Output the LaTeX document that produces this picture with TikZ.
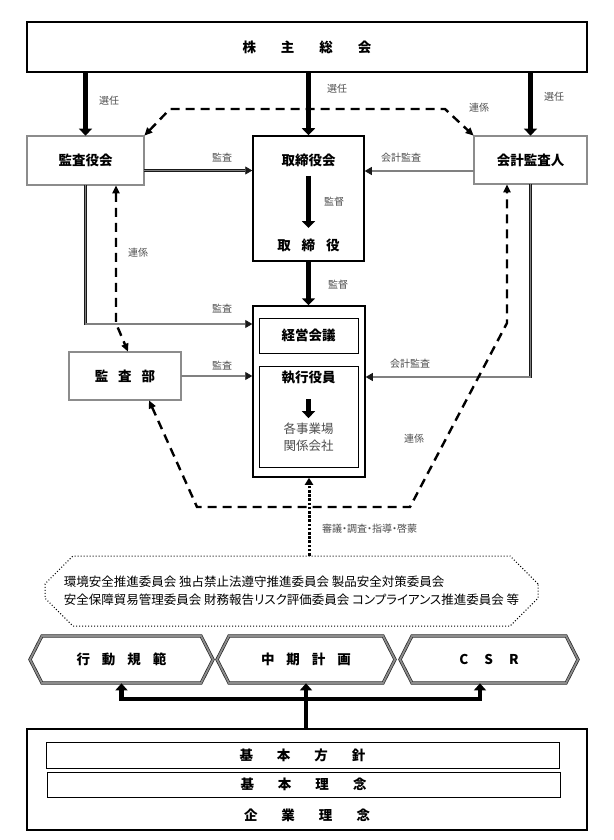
\documentclass[tikz,border=0pt]{standalone}
\usepackage{fontspec}
\setmainfont{Noto Sans CJK JP}
\newfontfamily\kana[RawFeature=+palt]{Noto Sans CJK JP}
\usetikzlibrary{arrows.meta, shapes.misc, shapes.symbols}
\newcommand\gp[1]{\hspace{#1pt}}

\begin{document}
\begin{tikzpicture}[x=1pt, y=-1pt,
  ttl/.style={font=\fontsize{13.5}{16}\selectfont\bfseries},
  lbl/.style={font=\fontsize{10}{12}\selectfont, text=black!70, inner sep=1pt},
  dbox/.style={draw=black!85, double=black!45, double distance=1.3pt, line width=0.7pt},
  senin/.style={line width=5.5pt, -{Triangle[width=13pt,length=7pt]}},
  kansa/.style={draw=black!90, double=black!50, double distance=1.1pt, line width=0.8pt, -{Triangle[width=8pt,length=7pt]}},
  renkei/.style={line width=2.4pt, dash pattern=on 9pt off 6pt, {Triangle[width=7pt,length=8pt]}-{Triangle[width=7pt,length=8pt]}},
  hexa/.style={signal, signal to=west and east, signal pointer angle=126, minimum height=47pt, draw=black!85, double=black!45, double distance=1.8pt, line width=0.7pt, inner sep=0pt},
  kiso/.style={line width=4.5pt, -{Triangle[width=12pt,length=7pt]}}]
\useasboundingbox (0,0) rectangle (613,840);
\node[draw, line width=1.2pt, minimum width=560pt, minimum height=50pt, ttl] (soukai) at (307,47) {株\gp{25}主\gp{25}総\gp{25}会};
\node[dbox, minimum width=117pt, minimum height=49pt, ttl] (kansayaku) at (85.5,160.5) {監査役会};
\node[draw, line width=1.5pt, minimum width=111pt, minimum height=125pt] (torishimari) at (308.5,198.5) {};
\node[ttl] (tkai) at (308.5,160) {取締役会};
\node[ttl] (tyaku) at (308.5,245) {取\gp{11}締\gp{11}役};
\node[dbox, minimum width=113pt, minimum height=48pt, ttl] (kaikei) at (530.5,160) {会計監査人};
\node[draw, line width=1.5pt, minimum width=112pt, minimum height=171pt] (keiei) at (309,391.5) {};
\node[draw, line width=1pt, minimum width=99pt, minimum height=35pt, ttl] (kaigi) at (308.5,335.5) {経営会議};
\node[draw, line width=1pt, minimum width=99pt, minimum height=101pt] (shikko) at (308.5,416.5) {};
\node[ttl] (yakuin) at (308.5,378) {執行役員};
\node[align=center, font=\fontsize{12.5}{17}\selectfont, text=black!70] (jigyo) at (308.5,437) {各事業場\\関係会社};
\node[dbox, minimum width=112pt, minimum height=48pt, ttl] (kansabu) at (125,376) {監\gp{10}査\gp{10}部};
\node[chamfered rectangle, chamfered rectangle xsep=17pt, chamfered rectangle ysep=13pt, draw, line width=1pt, dotted, minimum width=493pt, minimum height=70pt, align=left, font=\fontsize{12.5}{18}\selectfont, inner sep=0pt] (iinkai) at (291.5,591) {環境安全推進委員会 独占禁止法遵守推進委員会 製品安全対策委員会\\安全保障貿易管理委員会 財務報告{\kana リスク}評価委員会 {\kana コンプライアンス}推進委員会 等};
\node[hexa, minimum width=183pt, ttl] (kodo) at (121.5,659.5) {行\gp{12}動\gp{12}規\gp{12}範};
\node[hexa, minimum width=178pt, ttl] (chuki) at (306,659.5) {中\gp{12}期\gp{12}計\gp{12}画};
\node[hexa, minimum width=178pt, ttl] (csr) at (489,659.5) {C\gp{16}S\gp{16}R};
\node[draw, line width=2pt, minimum width=560pt, minimum height=101pt] (kihon) at (307,779.5) {};
\node[draw, line width=1pt, minimum width=513pt, minimum height=26pt, ttl] (hoshin) at (302.5,755) {基\gp{24}本\gp{24}方\gp{24}針};
\node[draw, line width=1pt, minimum width=513pt, minimum height=25pt, ttl] (rinen) at (303.5,784.5) {基\gp{24}本\gp{24}理\gp{24}念};
\node[ttl] (kigyo) at (307,815) {企\gp{24}業\gp{24}理\gp{24}念};
\draw[senin] (kansayaku.north |- soukai.south) -- (kansayaku.north);
\draw[senin] (torishimari.north |- soukai.south) -- (torishimari.north);
\draw[senin] (kaikei.north |- soukai.south) -- (kaikei.north);
\node[lbl, anchor=west] (s1) at (98,101) {選任};
\node[lbl, anchor=west] (s2) at (326,89) {選任};
\node[lbl, anchor=west] (s3) at (543,97) {選任};
\draw[renkei] (kansayaku.north east) -- (170,109) -- (445,109) -- (kaikei.north west);
\node[lbl, anchor=west] (r1) at (468,108) {連係};
\draw[senin, shorten <=6pt, shorten >=7pt] (tkai.south) -- (tyaku.north);
\node[lbl, anchor=west] (k1) at (323,202) {監督};
\draw[senin] (torishimari.south) -- (torishimari.south |- keiei.north);
\node[lbl, anchor=west] (k2) at (327,285) {監督};
\draw[senin, shorten <=11pt, shorten >=1pt] (yakuin.south) -- (jigyo.north);
\coordinate (ka) at ([yshift=-10pt]kansayaku.east);
\draw[kansa] (ka) -- (ka -| torishimari.west);
\node[lbl] (a1) at (222,158) {監査};
\coordinate (kb) at ([yshift=-11pt]kaikei.west);
\draw[kansa] (kb) -- (kb -| torishimari.east);
\node[lbl] (a2) at (401,158) {会計監査};
\draw[kansa] (kansayaku.south) |- (keiei.west |- 0,324);
\node[lbl] (a3) at (222,309) {監査};
\draw[kansa] (kansabu.east) -- (kansabu.east -| keiei.west);
\node[lbl] (a4) at (222,366) {監査};
\draw[kansa] (kaikei.south) |- (keiei.east |- 0,377);
\node[lbl] (a5) at (410,364) {会計監査};
\draw[renkei] ([xshift=30.5pt]kansayaku.south) -- ++(0,138) -- ([xshift=3pt]kansabu.north);
\node[lbl, anchor=west] (r2) at (127,253) {連係};
\draw[renkei] ([xshift=24pt]kansabu.south) -- (197,507) -- (410,507) -- (507,323) -- ([xshift=-23.5pt]kaikei.south);
\node[lbl] (r3) at (414,439) {連係};
\draw[line width=3pt, dash pattern=on 2.6pt off 1.6pt, -{Triangle[width=8pt,length=7pt]}] (iinkai.north -| keiei.south) -- (keiei.south);
\node[lbl, anchor=west] (sg) at (321,529) {\kana 審議・調査・指導・啓蒙};
\draw[kiso] (kihon.north -| chuki.south) -- (chuki.south);
\coordinate (bj) at (chuki.south |- 0,699);
\draw[kiso] (bj) -| (kodo.south);
\draw[kiso] (bj) -| ([xshift=-9pt]csr.south);
\end{tikzpicture}
\end{document}
